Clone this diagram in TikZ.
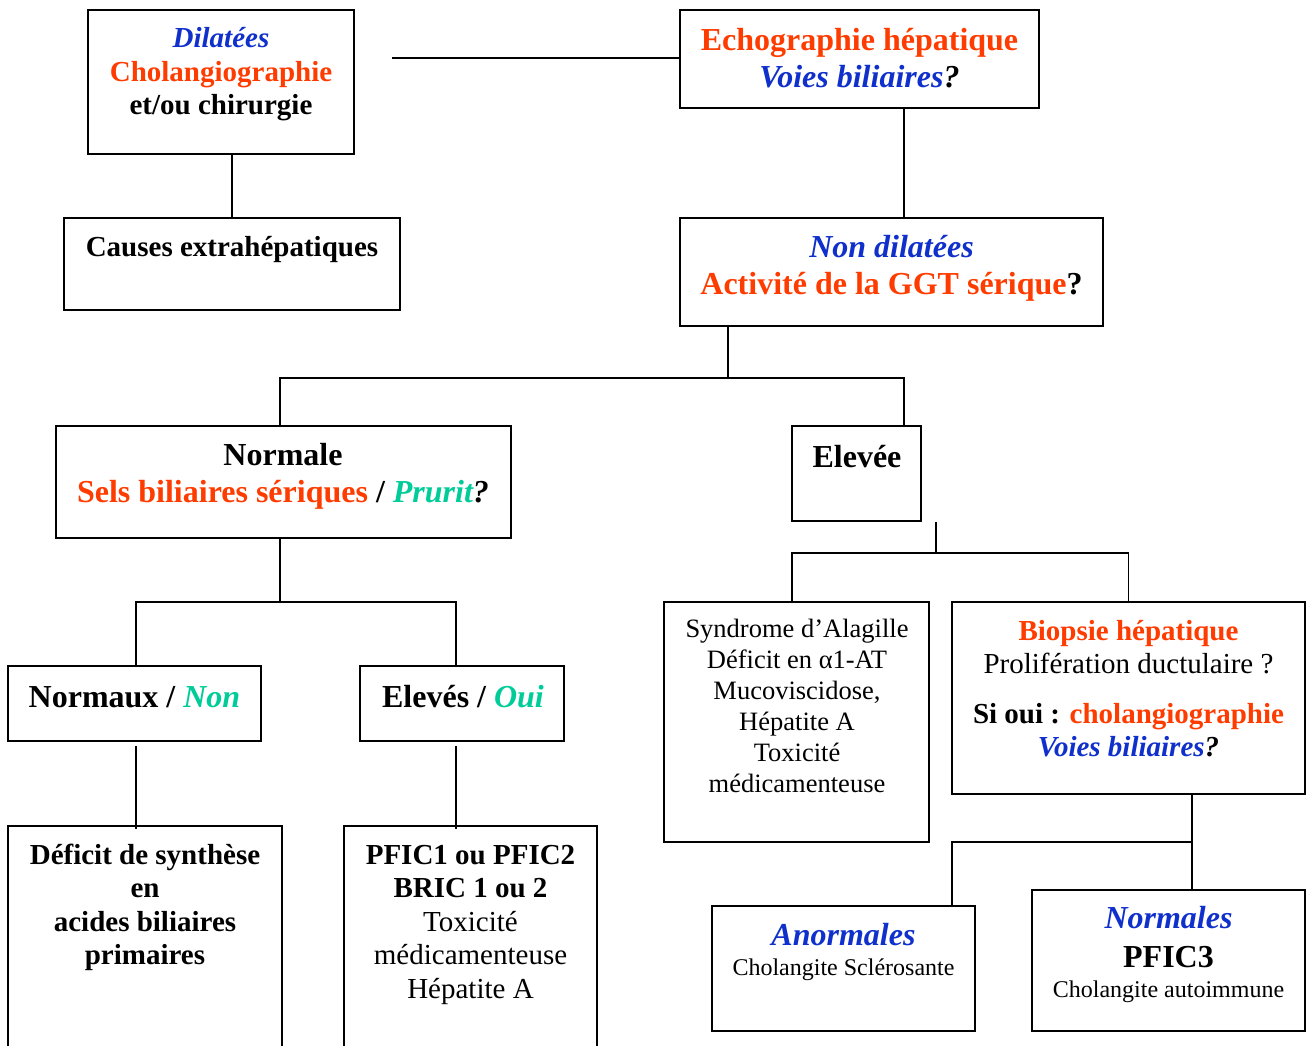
\documentclass[tikz,border=0pt]{standalone}
\usepackage{fontspec}
\setmainfont{Liberation Serif}
\usetikzlibrary{fit}
\definecolor{cred}{RGB}{255,60,0}
\definecolor{cblue}{RGB}{16,48,204}
\definecolor{cgreen}{RGB}{0,204,153}
\newcommand\fbig{\fontsize{32}{37}\selectfont}
\newcommand\fmid{\fontsize{29}{33.5}\selectfont}
\newcommand\fsyn{\fontsize{26.5}{31}\selectfont}
\newcommand\fsmall{\fontsize{24}{28}\selectfont}
\newcommand\rd[1]{\textcolor{cred}{#1}}
\newcommand\bl[1]{\textcolor{cblue}{\itshape #1}}
\newcommand\gr[1]{\textcolor{cgreen}{\itshape #1}}
\begin{document}
\begin{tikzpicture}[x=1pt,y=-1pt,
  box/.style={draw, line width=1.8pt, inner sep=0pt},
  conn/.style={line width=1.5pt},
  txt/.style={align=center, inner sep=0pt, anchor=north},
  ln/.style={inner sep=0pt, anchor=base}]
\useasboundingbox (0,0) rectangle (1312,1046);
\clip (0,0) rectangle (1312,1046);
\fill[white] (0,0) rectangle (1312,1046);
% boxes
\node[box, fit={(88,10)(354,154)}] (b1) {};
\node[box, fit={(680,10)(1039,108)}] (b2) {};
\node[box, fit={(64,218)(400,310)}] (b3) {};
\node[box, fit={(680,218)(1103,326)}] (b4) {};
\node[box, fit={(56,426)(511,538)}] (b5) {};
\node[box, fit={(792,426)(921,521)}] (b6) {};
\node[box, fit={(8,666)(261,741)}] (b7) {};
\node[box, fit={(360,666)(564,741)}] (b8) {};
\node[box, fit={(8,826)(282,1060)}] (b9) {};
\node[box, fit={(344,826)(597,1060)}] (b10) {};
\node[box, fit={(664,602)(929,842)}] (b11) {};
\node[box, fit={(952,602)(1305,794)}] (b12) {};
\node[box, fit={(712,906)(975,1031)}] (b13) {};
\node[box, fit={(1032,890)(1305,1031)}] (b14) {};
% texts
\node[txt, font=\fmid\bfseries] (t1) at (221,24) {\strut\bl{Dilatées}\\ \rd{Cholangiographie}\\ et/ou chirurgie};
\node[txt, font=\fbig\bfseries] (t2) at (859.5,24) {\strut\rd{Echographie hépatique}\\ \bl{Voies biliaires}\textit{?}};
\node[txt, font=\fmid\bfseries] (t3) at (232,233) {\strut Causes extrahépatiques};
\node[txt, font=\fbig\bfseries] (t4) at (891.5,231) {\strut\bl{Non dilatées}\\ \rd{Activité de la GGT sérique}?};
\node[txt, font=\fbig\bfseries] (t5) at (283,439) {\strut Normale\\ \rd{Sels biliaires sériques} / \gr{Prurit}\textit{?}};
\node[txt, font=\fbig\bfseries] (t6) at (857,441) {\strut Elevée};
\node[txt, font=\fbig\bfseries] (t7) at (134.5,681) {\strut Normaux / \gr{Non}};
\node[txt, font=\fbig\bfseries] (t8) at (463,681) {\strut Elevés / \gr{Oui}};
\node[txt, font=\fmid\bfseries] (t9) at (145,840.5) {\strut Déficit de synthèse\\ en\\ acides biliaires\\ primaires};
\node[txt, font=\fmid] (t10) at (470.5,840.5) {\strut\textbf{PFIC1 ou PFIC2}\\ \textbf{BRIC 1 ou 2}\\ Toxicité\\ médicamenteuse\\ Hépatite A};
\node[txt, font=\fsyn] (t11) at (797,615.3) {\strut Syndrome d’Alagille\\ Déficit en α1-AT\\ Mucoviscidose,\\ Hépatite A\\ Toxicité\\ médicamenteuse};
\node[txt, font=\fmid] (t12) at (1128.5,616.5) {\strut\textbf{\rd{Biopsie hépatique}}\\ Prolifération ductulaire ?\\[16pt] \textbf{Si oui : \rd{cholangiographie}}\\ \textbf{\bl{Voies biliaires}\textit{?}}};
\node[ln, font=\fbig\bfseries] (t13a) at (843.5,945) {\bl{Anormales}};
\node[ln, font=\fsmall] (t13b) at (843.5,975) {Cholangite Sclérosante};
\node[ln, font=\fbig\bfseries] (t14a) at (1168.5,928) {\bl{Normales}};
\node[ln, font=\fbig\bfseries] (t14b) at (1168.5,967) {PFIC3};
\node[ln, font=\fsmall] (t14c) at (1168.5,997) {Cholangite autoimmune};
% connectors
\coordinate (c0) at (392,58);
\draw[conn] (c0) -- (c0 -| b2.west);
\draw[conn] ([xshift=11pt]b1.south) -- ([xshift=11pt]b1.south |- b3.north);
\draw[conn] ([xshift=44.5pt]b2.south) -- ([xshift=44.5pt]b2.south |- b4.north);
\coordinate (j1) at (728,378);
\draw[conn] (j1 |- b4.south) -- (j1);
\draw[conn] ([xshift=-3.5pt]b5.north) |- (j1) -| ([xshift=47.5pt]b6.north);
\coordinate (j2) at (936,553);
\draw[conn] (j2 |- b6.south) -- (j2);
\draw[conn] ([xshift=-4.5pt]b11.north) |- (j2) -| (b12.north);
\draw[conn] ([xshift=63.5pt]b12.south) -- ([xshift=63.5pt]b12.south |- b14.north);
\coordinate (j3) at (1192,842);
\draw[conn] ([xshift=108.5pt]b13.north) |- (j3);
\coordinate (j4) at (280,602);
\draw[conn] (j4 |- b5.south) -- (j4);
\draw[conn] ([xshift=1.5pt]b7.north) |- (j4) -| ([xshift=-6pt]b8.north);
\draw[conn] ([xshift=1.5pt,yshift=-4pt]b7.south) -- ([xshift=1.5pt,yshift=-4pt]b7.south |- b9.north);
\draw[conn] ([xshift=-6pt,yshift=-4pt]b8.south) -- ([xshift=-6pt,yshift=-4pt]b8.south |- b10.north);
\end{tikzpicture}
\end{document}
